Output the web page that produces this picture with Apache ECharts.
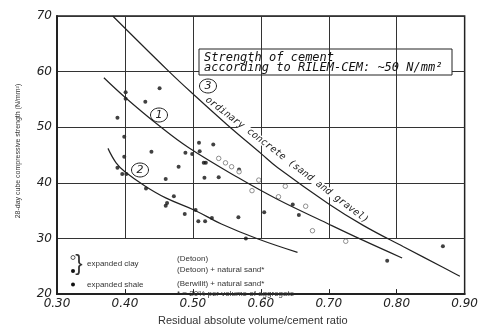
<!DOCTYPE html>
<html>
<head>
<meta charset="utf-8">
<script src="https://cdn.jsdelivr.net/npm/echarts@6/dist/echarts.min.js"></script>
<style>
  html, body { margin: 0; padding: 0; background: #fff; }
  #chart { width: 481px; height: 331px; }
</style>
</head>
<body>
<div id="chart"></div>
<script>
// tick values / labels
const xTicks = [0.3, 0.4, 0.5, 0.6, 0.7, 0.8, 0.9];
const xTickLabels = ["0.30", "0.40", "0.50", "0.60", "0.70", "0.80", "0.90"];
const yTicks = [20, 30, 40, 50, 60, 70];

// lightweight aggregate, filled dots (Detoon + sand, Berwilit + sand)
const filledPts = [
  [0.401, 56.3], [0.401, 55.1], [0.451, 57.0], [0.430, 54.6], [0.389, 51.7],
  [0.399, 48.3], [0.399, 44.7], [0.439, 45.6], [0.489, 45.4], [0.499, 45.2],
  [0.510, 45.7], [0.509, 47.2], [0.530, 46.9], [0.516, 43.6], [0.519, 43.6],
  [0.479, 42.9], [0.389, 42.7], [0.396, 41.6], [0.402, 41.6], [0.460, 40.7],
  [0.431, 39.0], [0.472, 37.6], [0.462, 36.4], [0.460, 35.9], [0.488, 34.4],
  [0.504, 35.1], [0.508, 33.1], [0.518, 33.1], [0.528, 33.7], [0.567, 33.8],
  [0.517, 40.9], [0.538, 41.0], [0.568, 42.4], [0.578, 30.0], [0.605, 34.7],
  [0.647, 36.1], [0.656, 34.2], [0.786, 26.0], [0.868, 28.6]
];

// Detoon only, open circles
const openPts = [
  [0.538, 44.4], [0.548, 43.6], [0.557, 42.9], [0.568, 42.0], [0.597, 40.5],
  [0.587, 38.6], [0.636, 39.4], [0.626, 37.5], [0.666, 35.8], [0.676, 31.4],
  [0.725, 29.5]
];

// fitted curves
const curve1 = [
  [0.369, 58.9], [0.40, 55.4], [0.45, 50.3], [0.494, 46.3], [0.567, 40.9],
  [0.625, 37.0], [0.698, 32.7], [0.75, 29.7], [0.808, 26.5]
];
const curve2 = [
  [0.375, 46.2], [0.387, 43.6], [0.40, 42.0], [0.43, 39.4], [0.46, 37.3],
  [0.504, 35.0], [0.542, 32.6], [0.596, 29.9], [0.654, 27.5]
];
const curve3 = [
  [0.382, 70.0], [0.465, 60.0], [0.50, 56.0], [0.55, 50.5], [0.60, 45.3],
  [0.625, 42.7], [0.70, 36.2], [0.75, 32.4], [0.81, 28.5], [0.87, 24.7],
  [0.893, 23.2]
];

const ink = "#222";
const tickFont = { color: ink, fontFamily: "DejaVu Sans", fontStyle: "italic", fontSize: 12 };
const monoFont = "italic 12px 'DejaVu Sans Mono'";
const smallFont = "8px 'Liberation Sans'";

// vertical grid lines only run from 30 up to 70
const vLines = xTicks.slice(1, -1).map(x => [
  { coord: [x, 30] }, { coord: [x, 70] }
]);

const curveSeries = (data) => ({
  type: "line",
  data,
  smooth: 0.4,
  showSymbol: false,
  silent: true,
  z: 7,
  lineStyle: { color: ink, width: 1.2 },
});

const circled = (cx, cy, txt) => ({
  type: "group",
  z: 10,
  children: [
    { type: "ellipse", shape: { cx, cy, rx: 8.5, ry: 7 }, style: { fill: "#fff", stroke: ink, lineWidth: 1 } },
    { type: "text", x: cx, y: cy, style: { text: txt, font: "italic 11px 'DejaVu Sans'", fill: ink, align: "center", verticalAlign: "middle" } },
  ],
});

const txt = (x, y, text, font, extra) => ({
  type: "text", x, y, z: 10,
  style: Object.assign({ text, font: font || smallFont, fill: "#333", verticalAlign: "middle" }, extra || {}),
});

const chart = echarts.init(document.getElementById("chart"));
chart.setOption({
  backgroundColor: "#fff",
  animation: false,
  grid: { left: 57, right: 12, top: 16, bottom: 26, show: true, borderColor: ink, borderWidth: 1.5 },
  xAxis: {
    type: "value", min: 0.3, max: 0.9, interval: 0.1,
    name: "Residual absolute volume/cement ratio",
    nameLocation: "middle", nameGap: 18,
    nameTextStyle: { color: "#333", fontFamily: "Liberation Sans", fontSize: 11, padding: [0, 16, 0, 0] },
    axisLine: { lineStyle: { color: ink, width: 2 } },
    axisTick: { show: true, inside: true, length: 5, lineStyle: { color: ink } },
    axisLabel: Object.assign({ margin: 4, formatter: v => xTickLabels[xTicks.findIndex(t => Math.abs(t - v) < 1e-6)] }, tickFont),
    splitLine: { show: false },
  },
  yAxis: {
    type: "value", min: 20, max: 70, interval: 10,
    name: "28-day cube compressive strength (N/mm²)",
    nameLocation: "middle", nameGap: 35, nameRotate: 90,
    nameTextStyle: { color: "#333", fontFamily: "Liberation Sans", fontSize: 7, padding: [0, 0, 0, 8] },
    axisLine: { lineStyle: { color: ink, width: 2 } },
    axisTick: { show: false },
    axisLabel: Object.assign({ margin: 5, formatter: v => yTicks.includes(v) ? String(v) : "" }, tickFont),
    splitLine: { show: true, lineStyle: { color: "#333", width: 1 } },
  },
  series: [
    curveSeries(curve1),
    curveSeries(curve2),
    curveSeries(curve3),
    {
      type: "scatter", data: filledPts, symbol: "circle", symbolSize: 4, z: 4,
      itemStyle: { color: "#111" },
      markLine: {
        silent: true, symbol: "none", label: { show: false },
        lineStyle: { color: "#333", width: 1, type: "solid" },
        data: vLines,
      },
    },
    {
      type: "scatter", data: openPts, symbol: "circle", symbolSize: 4.5, z: 4,
      itemStyle: { color: "#fff", borderColor: "#666", borderWidth: 0.9 },
    },
  ],
  graphic: [
    // strength box
    { type: "rect", z: 5, shape: { x: 199, y: 49, width: 253, height: 26 }, style: { fill: "#fff", stroke: ink, lineWidth: 1 } },
    txt(204, 57.5, "Strength of cement", monoFont, { fill: "#111" }),
    txt(204, 68, "according to RILEM-CEM: ~50 N/mm²", monoFont, { fill: "#111" }),
    // label along curve 3
    {
      type: "text", x: 287, y: 160, rotation: -0.65, z: 6,
      style: {
        text: "ordinary concrete (sand and gravel)", font: "italic 9.6px 'DejaVu Sans Mono'",
        fill: ink, align: "center", verticalAlign: "middle", backgroundColor: "#fff", lineHeight: 8,
      },
    },
    circled(208, 86, "3"),
    circled(159, 115, "1"),
    circled(140, 170, "2"),
    // key
    { type: "circle", z: 10, shape: { cx: 73, cy: 257.5, r: 2 }, style: { fill: "#fff", stroke: "#444", lineWidth: 0.9 } },
    { type: "circle", z: 10, shape: { cx: 73, cy: 271, r: 2 }, style: { fill: "#111" } },
    { type: "circle", z: 10, shape: { cx: 73, cy: 284.5, r: 2 }, style: { fill: "#111" } },
    txt(79, 264, "}", "22px 'Liberation Sans'", { fill: "#333", align: "center" }),
    txt(87, 264, "expanded clay"),
    txt(87, 284.5, "expanded shale"),
    txt(177, 259, "(Detoon)"),
    txt(177, 269.5, "(Detoon) + natural sand*"),
    txt(177, 284, "(Berwilit) + natural sand*"),
    txt(177, 294, "* = 20% per volume of aggregate"),
  ],
});
</script>
</body>
</html>
